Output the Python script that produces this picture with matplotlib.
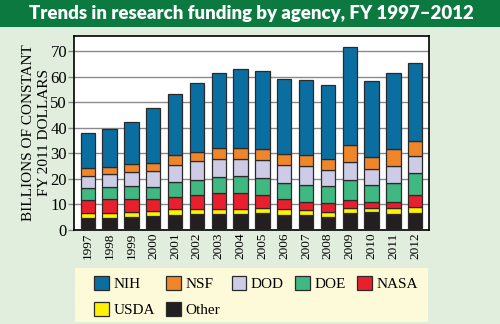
import matplotlib.pyplot as plt
import numpy as np

# 数据（十亿美元，2011年不变价）
years = ['1997', '1998', '1999', '2000', '2001', '2002', '2003', '2004',
         '2005', '2006', '2007', '2008', '2009', '2010', '2011', '2012']
other = [4.6, 4.6, 5.0, 5.6, 5.9, 6.3, 6.1, 6.1, 6.5, 5.9, 5.9, 5.2, 6.5, 6.9, 6.1, 6.8]
usda = [1.9, 2.2, 1.9, 1.7, 2.2, 1.8, 2.0, 2.0, 2.0, 2.2, 1.8, 2.0, 2.1, 1.8, 2.6, 2.1]
nasa = [5.2, 5.2, 5.2, 4.8, 5.0, 5.6, 6.3, 6.3, 5.3, 4.0, 3.4, 3.2, 3.1, 2.4, 2.4, 4.7]
doe = [4.6, 4.8, 5.3, 4.7, 5.6, 6.0, 6.2, 6.7, 6.4, 6.2, 6.5, 6.8, 7.9, 6.5, 7.2, 8.9]
dod = [5.0, 5.3, 5.2, 6.2, 6.8, 7.2, 7.2, 6.9, 7.2, 7.2, 7.5, 6.3, 6.9, 6.2, 6.8, 6.6]
nsf = [2.9, 2.7, 3.2, 3.2, 3.7, 3.6, 4.2, 4.3, 4.2, 4.1, 4.1, 4.3, 6.7, 4.7, 6.5, 5.8]
nih = [13.7, 14.8, 16.4, 21.4, 23.9, 26.9, 29.5, 30.8, 30.7, 29.4, 29.4, 29.0, 38.6, 29.9, 29.9, 30.6]

series = [('Other', other, '#231f20'), ('USDA', usda, '#fff200'),
          ('NASA', nasa, '#e8202e'), ('DOE', doe, '#3fb882'),
          ('DOD', dod, '#cdcbe6'), ('NSF', nsf, '#f0862a'),
          ('NIH', nih, '#0a6fa0')]

serif = ['Liberation Serif', 'DejaVu Serif']
bg = '#e1eedd'

fig = plt.figure(figsize=(5, 3.24), dpi=100)
fig.patch.set_facecolor(bg)

# 标题栏
fig.patches.append(plt.Rectangle((0, 1 - 27 / 324), 1, 27 / 324, transform=fig.transFigure,
                                 facecolor='#0c7a40', edgecolor='none', zorder=0))
fig.text(0.503, 1 - 14 / 324, 'Trends in research funding by agency, FY 1997\u20132012',
         color='white', fontsize=13.4, fontweight='heavy', family='Lato',
         ha='center', va='center')

ax = fig.add_axes([74 / 500, 1 - 230 / 324, 355 / 500, 194 / 324])
ax.set_facecolor('white')
x = np.arange(len(years))
bottom = np.zeros(len(years))
handles = {}
for name, vals, col in series:
    b = ax.bar(x, vals, 0.66, bottom=bottom, color=col, edgecolor='#2a2a2a',
               linewidth=0.9, zorder=3)
    handles[name] = b
    bottom += np.array(vals)

ax.set_xlim(-0.63, 15.63)
ax.set_ylim(0, 76)
ax.set_yticks(range(0, 80, 10))
ax.yaxis.grid(True, color='#8a8a8a', linewidth=1, zorder=0)
ax.set_xticks(x)
ax.set_xticklabels(years, rotation=90, family=serif, fontsize=9.5)
for lab in ax.get_yticklabels():
    lab.set_family(serif)
    lab.set_fontsize(12)
ax.tick_params(axis='x', length=0, pad=2)
ax.tick_params(axis='y', length=4, width=1, color='#8a8a8a', pad=1)
for s in ax.spines.values():
    s.set_linewidth(1.2)
    s.set_color('black')
ax.set_ylabel('BILLIONS OF CONSTANT\nFY 2011 DOLLARS', family=serif, fontsize=11,
              linespacing=1.3, va='center')
ax.yaxis.set_label_coords(-0.105, 0.5)

# 图例背景
fig.patches.append(plt.Rectangle((75 / 500, 2 / 324), 353 / 500, 54 / 324,
                                 transform=fig.transFigure, facecolor='#fcfad8',
                                 edgecolor='none', zorder=0))
# 图例（按列填充，显示为按行顺序）
order = ['NIH', 'USDA', 'NSF', 'Other', 'DOD', 'DOE', 'NASA']
leg = fig.legend([handles[k] for k in order], order, loc='upper left',
                 bbox_to_anchor=(82 / 500, 1 - 264 / 324), ncol=5,
                 prop={'family': serif, 'size': 11}, frameon=False,
                 handlelength=0.95, handleheight=1.0, handletextpad=0.3,
                 columnspacing=0.75, borderpad=0.3, labelspacing=0.7)

plt.savefig('out.png', dpi=100, facecolor=bg)
